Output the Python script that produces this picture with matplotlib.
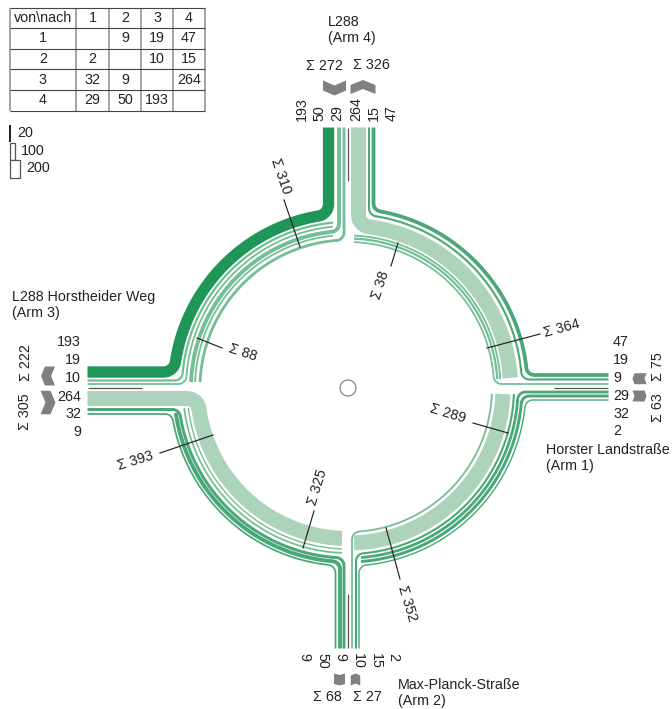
import numpy as np
import matplotlib
matplotlib.use("Agg")
import matplotlib.pyplot as plt
from matplotlib.patches import Circle, Polygon, Rectangle

# flows von\nach, arms 1..4 (None on the diagonal)
FLOWS = [
    [None, 9, 19, 47],
    [2, None, 10, 15],
    [32, 9, None, 264],
    [29, 50, 193, None],
]
ARM_IDS = ["1", "2", "3", "4"]
LEGEND_VALUES = [20, 100, 200]

SECTION_SUMS = [310, 88, 38, 364, 289, 352, 325, 393]

ARM_NAMES = [
    "L288\n(Arm 4)",
    "L288 Horstheider Weg\n(Arm 3)",
    "Horster Landstraße\n(Arm 1)",
    "Max-Planck-Straße\n(Arm 2)",
]

# ring strips per quadrant: value, radius, shade, horizontal end, vertical end
# an end is ("cut", offset) or ("arm", offset), offset measured from the axis
STRIPS_NW = [
    (193, 174.5, "dark", ("arm", 16), ("arm", 19.5)),
    (19, 166, "soft", ("arm", 7.5), ("cut", 15)),
    (10, 162, "soft", ("arm", 4), ("cut", 15)),
    (50, 157, "soft", ("cut", 6), ("arm", 9)),
    (9, 153, "soft", ("cut", 6), ("cut", 15)),
    (29, 148, "soft", ("cut", 6), ("arm", 4)),
]
STRIPS_NE = [
    (47, 179.5, "mid", ("arm", 13), ("arm", 25.5)),
    (15, 174, "mid", ("arm", 8.5), ("arm", 21)),
    (264, 162.5, "pale", ("cut", 10), ("arm", 10.5)),
    (10, 152.5, "soft", ("cut", 9), ("cut", 6)),
    (19, 149.5, "soft", ("cut", 9), ("cut", 6)),
    (9, 146, "soft", ("arm", 4), ("cut", 6)),
]
STRIPS_SE = [
    (2, 178, "mid", ("arm", 12), ("arm", 11)),
    (32, 174, "mid", ("arm", 8), ("cut", 13)),
    (29, 170, "mid", ("arm", 4), ("cut", 13)),
    (15, 166, "mid", ("cut", 6), ("arm", 8)),
    (264, 155, "pale", ("cut", 6), ("cut", 6)),
    (10, 144, "soft", ("cut", 6), ("arm", 4)),
]
STRIPS_SW = [
    (9, 178, "mid", ("arm", 26), ("arm", 12.5)),
    (50, 174, "mid", ("cut", 25), ("arm", 8)),
    (32, 170, "mid", ("arm", 21.5), ("arm", 4)),
    (9, 165, "soft", ("cut", 20), ("cut", 6)),
    (2, 161, "soft", ("cut", 20), ("cut", 6)),
    (264, 150.5, "pale", ("arm", 10.5), ("cut", 6)),
]

SHADES = {"dark": "#1f9558", "mid": "#4aa878", "soft": "#74be98", "pale": "#aed3bd"}
GREY = "#808080"
TEXT = "#222222"
FONT = "Liberation Sans"

CX, CY = 348, 388
ARM_LEN = 260.5
PX = 0.72  # one pixel in points at dpi 100


def strip_width(value):
    return 1.3 + value * 0.052


def fillet(off, r, f):
    # bend from a straight arm at distance off into the ring of radius r
    cv = off + f
    cu = np.sqrt((r + f) ** 2 - cv**2)
    t = np.arctan2(cv, cu)
    a = np.linspace(-np.pi / 2, t - np.pi, 14)
    return cu + f * np.cos(a), cv + f * np.sin(a), t


def strip_path(r, h_end, v_end, f):
    us, vs = [], []
    if h_end[0] == "arm":
        u, v, t0 = fillet(h_end[1], r, f)
        us += [ARM_LEN] + list(u)
        vs += [h_end[1]] + list(v)
    else:
        t0 = np.arcsin(h_end[1] / r)
    if v_end[0] == "arm":
        v, u, t1 = fillet(v_end[1], r, f)
        t1 = np.pi / 2 - t1
    else:
        t1 = np.arccos(v_end[1] / r)
    a = np.linspace(t0, t1, 80)
    us += list(r * np.cos(a))
    vs += list(r * np.sin(a))
    if v_end[0] == "arm":
        us += list(u[::-1]) + [v_end[1]]
        vs += list(v[::-1]) + [ARM_LEN]
    return np.array(us), np.array(vs)


def draw_quadrant(ax, strips, sx, sy):
    for value, r, shade, h_end, v_end in strips:
        f = 12 if value > 100 else 8
        u, v = strip_path(r, h_end, v_end, f)
        ax.plot(CX + sx * u, CY + sy * v, color=SHADES[shade],
                lw=strip_width(value) * PX, solid_capstyle="butt", solid_joinstyle="round")


def label(ax, x, y, s, rotation=0, ha="center", va="center", size=10.3):
    ax.text(x, y, s, rotation=rotation, ha=ha, va=va, fontsize=size, color=TEXT,
            family=FONT, rotation_mode="anchor", linespacing=1.1)


def draw_table(ax):
    xs = [9.5, 76, 109, 141, 173, 205]
    ys = [8, 28, 49, 69, 90, 111]
    for x in xs:
        ax.plot([x, x], [ys[0], ys[-1]], color="#8a8a8a", lw=1.1, solid_capstyle="butt")
    for y in ys:
        ax.plot([xs[0], xs[-1]], [y, y], color="#444444", lw=0.8, solid_capstyle="butt")
    label(ax, (xs[0] + xs[1]) / 2, (ys[0] + ys[1]) / 2, "von\\nach")
    for i, arm in enumerate(ARM_IDS):
        label(ax, (xs[i + 1] + xs[i + 2]) / 2, (ys[0] + ys[1]) / 2, arm)
        label(ax, (xs[0] + xs[1]) / 2, (ys[i + 1] + ys[i + 2]) / 2, arm)
        for j, value in enumerate(FLOWS[i]):
            if value is not None:
                label(ax, (xs[j + 1] + xs[j + 2]) / 2, (ys[i + 1] + ys[i + 2]) / 2, str(value))


def draw_legend(ax):
    top = 125
    for k, value in enumerate(LEGEND_VALUES):
        w = strip_width(value) - 1.3
        y = top + k * 17.7
        if value < 50:
            w = 1.6
            ax.add_patch(Rectangle((9.3, y), w, 17, fc="#222222", ec="none"))
        else:
            ax.add_patch(Rectangle((9.5, y), w, 17.5, fc="white", ec="#555555", lw=0.9))
        label(ax, 9.5 + w + 6, y + 8, str(value), ha="left")


def chevron(ax, cx, cy, along, across, notch, direction):
    # block arrow pointing along direction (dx, dy)
    dx, dy = direction
    px, py = -dy, dx
    pts = [(-along / 2, -across / 2), (along / 2 - notch, -across / 2), (along / 2, 0),
           (along / 2 - notch, across / 2), (-along / 2, across / 2), (-along / 2 + notch, 0)]
    xy = [(cx + a * dx + b * px, cy + a * dy + b * py) for a, b in pts]
    ax.add_patch(Polygon(xy, closed=True, fc=GREY, ec="none"))


def main():
    fig = plt.figure(figsize=(6.72, 7.09), dpi=100)
    ax = fig.add_axes([0, 0, 1, 1])
    ax.set_xlim(0, 672)
    ax.set_ylim(709, 0)
    ax.axis("off")

    draw_table(ax)
    draw_legend(ax)

    draw_quadrant(ax, STRIPS_SW, -1, 1)
    draw_quadrant(ax, STRIPS_SE, 1, 1)
    draw_quadrant(ax, STRIPS_NE, 1, -1)
    draw_quadrant(ax, STRIPS_NW, -1, -1)

    # lane separators on the arms
    sep = dict(color="#555555", lw=0.9, solid_capstyle="butt")
    ax.plot([CX, CX], [CY - ARM_LEN, CY - 207], **sep)
    ax.plot([CX, CX], [CY + 206, CY + 260], **sep)
    ax.plot([CX - 260, CX - 206], [CY, CY], **sep)
    ax.plot([CX + 206, CX + 260], [CY, CY], **sep)

    ax.add_patch(Circle((CX, CY), 8, fc="white", ec="#777777", lw=0.8))

    # flows next to the arm ends, read from the matrix
    f = FLOWS
    north = [f[3][2], f[3][1], f[3][0], f[2][3], f[1][3], f[0][3]]
    south = [f[0][1], f[3][1], f[2][1], f[1][2], f[1][3], f[1][0]]
    west = [f[3][2], f[0][2], f[1][2], f[2][3], f[2][0], f[2][1]]
    east = [f[0][3], f[0][2], f[0][1], f[3][0], f[2][0], f[1][0]]
    for x, v in zip([302, 319.5, 337, 356, 374, 392], north):
        label(ax, x, 121, str(v), rotation=90, ha="left")
    for x, v in zip([304, 322, 340, 358, 376, 393], south):
        label(ax, x, 653, str(v), rotation=-90, ha="left")
    for y, v in zip([342, 360, 378, 397, 414, 432], west):
        label(ax, 81, y, str(v), ha="right")
    for y, v in zip([342, 360, 378, 396, 414, 431], east):
        label(ax, 613, y, str(v), ha="left")

    # arm totals
    row = [sum(v for v in r if v is not None) for r in f]
    col = [sum(r[j] for r in f if r[j] is not None) for j in range(4)]
    label(ax, 324, 66, f"Σ {row[3]}")
    label(ax, 371, 65, f"Σ {col[3]}")
    label(ax, 327, 697, f"Σ {col[1]}")
    label(ax, 367, 697, f"Σ {row[1]}")
    label(ax, 26, 363, f"Σ {col[2]}", rotation=90)
    label(ax, 25, 412, f"Σ {row[2]}", rotation=90)
    label(ax, 658, 367, f"Σ {row[0]}", rotation=90)
    label(ax, 658, 408, f"Σ {col[0]}", rotation=90)

    chevron(ax, 334.5, 88, 15, 23, 5, (0, 1))
    chevron(ax, 363, 87, 14, 25, 5, (0, -1))
    chevron(ax, 48, 376, 14, 19, 4, (-1, 0))
    chevron(ax, 48, 402.5, 15, 23.5, 5, (1, 0))
    chevron(ax, 639.5, 378.7, 14, 11, 2, (-1, 0))
    chevron(ax, 639.5, 396, 14, 11, 2, (1, 0))
    chevron(ax, 339.5, 679.5, 12, 11, 1.5, (0, 1))
    chevron(ax, 355.5, 679.5, 12, 9.5, 2, (0, -1))

    # section totals with their cut lines
    lines = [((284, 200), (300, 247)), ((197, 338), (222, 348)), ((398, 243), (391, 266)),
             ((487, 348), (540, 334)), ((508, 433), (473, 423)), ((386, 528), (400, 579)),
             ((303, 548), (314, 511)), ((213, 435), (160, 453))]
    spots = [(281, 176, -71), (243, 353, -18), (381, 285, 72), (562, 328, 15),
             (448, 414, -17), (407, 603, -73), (318, 487, 73), (135, 461, 17)]
    for (a, b), (x, y, rot), total in zip(lines, spots, SECTION_SUMS):
        ax.plot([a[0], b[0]], [a[1], b[1]], color="#222222", lw=0.85)
        label(ax, x, y, f"Σ {total}", rotation=rot)

    # road names
    for (x, y), name in zip([(328, 30), (12, 305), (546, 458), (398, 693)], ARM_NAMES):
        ax.text(x, y, name, ha="left", va="center", fontsize=10.3, color=TEXT,
                family=FONT, linespacing=1.15)

    fig.savefig("out.png", dpi=100)
    plt.close(fig)


if __name__ == "__main__":
    main()
